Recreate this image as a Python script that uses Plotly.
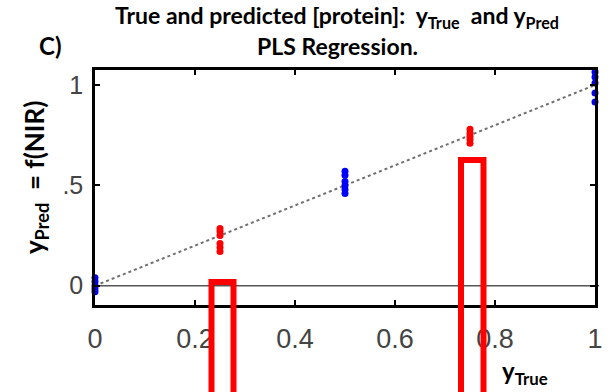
import plotly.graph_objects as go

# Reference concentrations (y_True) and PLS predictions (y_Pred)
cal_true = [0.0] * 6 + [0.5] * 6 + [1.0] * 5
cal_pred = [0.04, 0.02, 0.0, -0.015, -0.03, -0.11,
            0.57, 0.55, 0.52, 0.50, 0.48, 0.46,
            1.065, 1.04, 1.01, 0.96, 0.915]

val_true = [0.25] * 6 + [0.75] * 5
val_pred = [0.285, 0.27, 0.25, 0.21, 0.19, 0.17,
            0.78, 0.76, 0.745, 0.73, 0.71]

# Highlight boxes around the validation levels: left/right x and top y
box_left = [0.233, 0.732]
box_right = [0.277, 0.777]
box_top = [0.018, 0.626]

x_ticks = [0, 0.2, 0.4, 0.6, 0.8, 1]
x_ticklabels = ["0", "0.2", "0.4", "0.6", "0.8", "1"]
y_ticks = [0, 0.5, 1]
y_ticklabels = ["0", ".5", "1"]

x_range = [0, 1]
y_range = [-0.096, 1.075]

fig = go.Figure()

# identity line y = x
fig.add_trace(go.Scatter(
    x=x_range, y=x_range, mode="lines",
    line=dict(color="#707070", width=2, dash="dot"),
    hoverinfo="skip", showlegend=False,
))

fig.add_trace(go.Scatter(
    x=cal_true, y=cal_pred, mode="markers",
    marker=dict(color="#0000ff", size=7, line=dict(width=0)),
    cliponaxis=False, showlegend=False,
))
fig.add_trace(go.Scatter(
    x=val_true, y=val_pred, mode="markers",
    marker=dict(color="#ff0000", size=7, line=dict(width=0)),
    cliponaxis=False, showlegend=False,
))

shapes = [
    # zero reference line
    dict(type="line", xref="paper", yref="y", x0=0, x1=1.008, y0=0, y1=0,
         line=dict(color="#555555", width=1.5), layer="below"),
]


def to_paper(v):
    return (v - y_range[0]) / (y_range[1] - y_range[0])


for x0, x1, top in zip(box_left, box_right, box_top):
    shapes.append(dict(
        type="path", xref="x", yref="paper", layer="above",
        path=f"M {x0},-0.5 L {x0},{to_paper(top)} L {x1},{to_paper(top)} L {x1},-0.5",
        line=dict(color="#ff0000", width=6),
    ))

fig.update_layout(
    width=615, height=392,
    margin=dict(l=95, r=14, t=70, b=87),
    plot_bgcolor="white", paper_bgcolor="white",
    shapes=shapes,
    xaxis=dict(
        range=x_range, tickvals=x_ticks, ticktext=x_ticklabels,
        showgrid=False, zeroline=False,
        showline=True, linecolor="black", linewidth=2.5, mirror="ticks",
        ticks="inside", ticklen=5, tickwidth=1.5, tickcolor="black",
        tickfont=dict(family="Liberation Sans Narrow, Liberation Sans, Arial", size=27, color="#444444"),
        ticklabelstandoff=8,
    ),
    yaxis=dict(
        range=y_range, tickvals=y_ticks, ticktext=y_ticklabels,
        showgrid=False, zeroline=False,
        showline=True, linecolor="black", linewidth=2.5, mirror="ticks",
        ticks="inside", ticklen=5, tickwidth=1.5, tickcolor="black",
        tickfont=dict(family="Liberation Sans, Arial", size=25, color="#444444"),
        ticklabelstandoff=4,
    ),
    annotations=[
        dict(text="<b>True and predicted [protein]:&nbsp; y<sub>True</sub>&nbsp; and y<sub>Pred</sub></b>",
             xref="paper", yref="paper", x=0.484, y=1.0, yshift=54,
             xanchor="center", yanchor="middle", showarrow=False,
             font=dict(family="Lato", size=23, color="black")),
        dict(text="<b>PLS Regression.</b>",
             xref="paper", yref="paper", x=0.484, y=1.0, yshift=24,
             xanchor="center", yanchor="middle", showarrow=False,
             font=dict(family="Lato", size=23, color="black")),
        dict(text="<b>C)</b>",
             xref="paper", yref="paper", x=0, xshift=-45, y=1.0, yshift=25,
             xanchor="center", yanchor="middle", showarrow=False,
             font=dict(family="Lato", size=24, color="black")),
        dict(text="<b>y<sub>Pred</sub>&nbsp; = f(NIR)</b>",
             xref="paper", yref="paper", x=0, xshift=-60, y=0.54,
             xanchor="center", yanchor="middle", showarrow=False, textangle=-90,
             font=dict(family="Lato", size=26, color="black")),
        dict(text="<b>y<sub>True</sub></b>",
             xref="paper", yref="paper", x=0.86, y=0, yshift=-67,
             xanchor="center", yanchor="middle", showarrow=False,
             font=dict(family="Lato", size=24, color="black")),
    ],
)

fig.write_html("out.html")
